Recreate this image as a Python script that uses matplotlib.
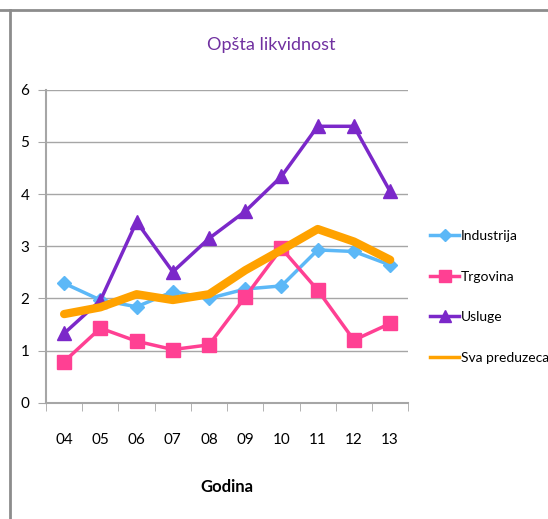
import matplotlib
matplotlib.use("Agg")
import matplotlib.pyplot as plt
import numpy as np
from matplotlib.lines import Line2D

years = ["04", "05", "06", "07", "08", "09", "10", "11", "12", "13"]
industrija = [2.29, 1.97, 1.84, 2.13, 2.00, 2.18, 2.24, 2.93, 2.90, 2.64]
trgovina = [0.79, 1.43, 1.18, 1.02, 1.11, 2.03, 2.96, 2.16, 1.20, 1.52]
usluge = [1.33, 1.96, 3.47, 2.51, 3.15, 3.67, 4.34, 5.30, 5.30, 4.05]
sva = [1.70, 1.83, 2.08, 1.97, 2.08, 2.54, 2.93, 3.33, 3.09, 2.74]

plt.rcParams["font.family"] = ["Lato", "DejaVu Sans"]
GRID = "#a6a6a6"

fig = plt.figure(figsize=(5.48, 5.19), dpi=100)
ax = fig.add_axes([0.084, 0.224, 0.661, 0.603])
x = np.arange(len(years))

ax.plot(x, industrija, color="#5cb8f7", lw=2.5, marker="D", ms=7, label="Industrija")
ax.plot(x, trgovina, color="#ff4093", lw=2.5, marker="s", ms=10, label="Trgovina")
ax.plot(x, usluge, color="#7b28c9", lw=2.5, marker="^", ms=10, label="Usluge")
ax.plot(x, sva, color="#ffa200", lw=6, solid_capstyle="round", label="Sva preduzeca")

ax.set_xlim(-0.5, len(years) - 0.5)
ax.set_ylim(0, 6)
ax.set_yticks(range(7))
ax.set_xticks(x, years)
ax.set_xticks(np.arange(-0.5, len(years)), minor=True)
ax.tick_params(axis="x", which="major", length=0, pad=22, labelsize=11)
ax.tick_params(axis="x", which="minor", length=6, color=GRID, direction="out")
ax.tick_params(axis="y", length=6, color=GRID, labelsize=11, pad=6)
ax.grid(axis="y", color=GRID, lw=1)
ax.set_axisbelow(True)
for s in ["top", "right"]:
    ax.spines[s].set_visible(False)
for s in ["left", "bottom"]:
    ax.spines[s].set_color(GRID)
    ax.spines[s].set_linewidth(1.5)

fig.text(0.495, 0.913, "Opšta likvidnost", color="#7030a0", fontsize=13,
         ha="center", va="center")
ax.set_xlabel("Godina", fontsize=12, fontweight="bold", labelpad=23)

handles = [
    Line2D([], [], color="#5cb8f7", lw=2.5, marker="D", ms=6),
    Line2D([], [], color="#ff4093", lw=2.5, marker="s", ms=9),
    Line2D([], [], color="#7b28c9", lw=2.5, marker="^", ms=9),
    Line2D([], [], color="#ffa200", lw=2.5),
]
fig.legend(handles, ["Industrija", "Trgovina", "Usluge", "Sva preduzeca"],
           loc="center left", bbox_to_anchor=(0.785, 0.428), frameon=False,
           borderpad=0, borderaxespad=0,
           fontsize=10, handlelength=2.1, handletextpad=0.1, labelspacing=2.05)

# outer frame lines
fig.add_artist(Line2D([0, 1], [0.981, 0.981], color="#8c8c8c", lw=2, transform=fig.transFigure))
fig.add_artist(Line2D([0.018, 0.018], [0, 0.981], color="#8c8c8c", lw=2, transform=fig.transFigure))

fig.savefig("out.png", dpi=100)
